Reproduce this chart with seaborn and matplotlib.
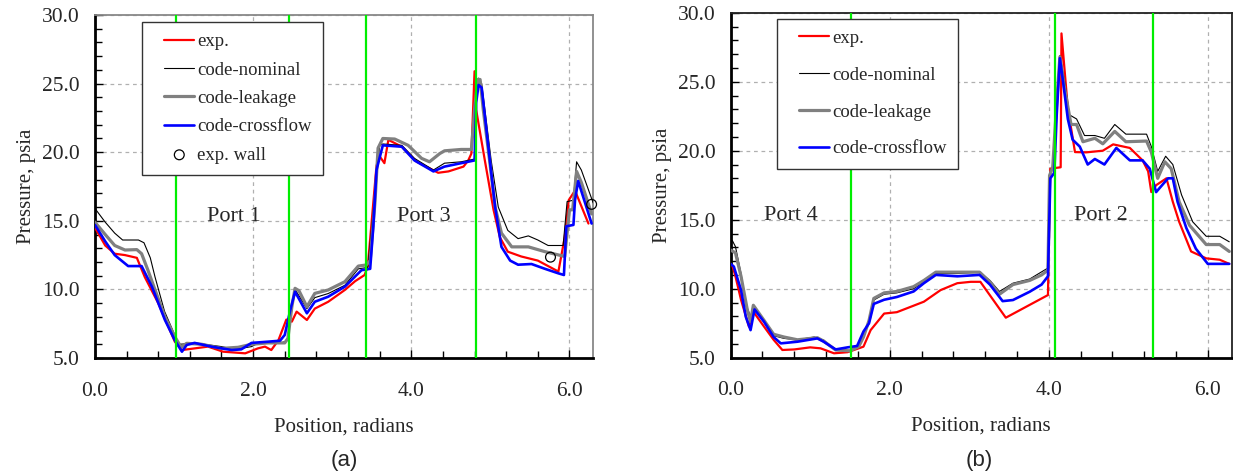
import matplotlib
matplotlib.use("Agg")
import matplotlib.pyplot as plt
from matplotlib.ticker import MultipleLocator, FormatStrFormatter
from matplotlib.lines import Line2D
from matplotlib.collections import PathCollection
from matplotlib.legend_handler import HandlerLine2D, HandlerPathCollection
import seaborn as sns

# ---------------- panel (a) ----------------
a_exp_x = [0.0, 0.13, 0.25, 0.38, 0.53, 0.63, 0.8, 1.01, 1.1, 1.26, 1.43, 1.62, 1.9, 2.06, 2.15, 2.23,
           2.32, 2.42, 2.45, 2.49, 2.55, 2.68, 2.78, 2.95, 3.16, 3.29, 3.41, 3.45, 3.56, 3.6, 3.66, 3.71,
           3.88, 4.07, 4.34, 4.47, 4.66, 4.72, 4.76, 4.8, 4.82, 4.93, 5.04, 5.12, 5.22, 5.39, 5.6, 5.86,
           5.94, 5.99, 6.07, 6.24]
a_exp_y = [14.5, 13.2, 12.6, 12.5, 12.3, 10.9, 9.0, 6.19, 5.58, 5.7, 5.83, 5.46, 5.34, 5.7, 5.83, 5.58,
           6.3, 7.8, 7.77, 7.65, 8.38, 7.77, 8.6, 9.1, 9.96, 10.6, 11.05, 11.7, 19.0, 19.7, 19.2, 20.9,
           20.4, 19.3, 18.5, 18.6, 18.95, 19.4, 19.9, 25.9, 23.1, 19.4, 15.8, 13.8, 12.75, 12.4, 12.1, 11.3,
           13.8, 16.5, 17.2, 14.8]

a_nom_x = [0.0, 0.13, 0.25, 0.35, 0.55, 0.62, 0.7, 0.76, 0.88, 1.0, 1.06, 1.12, 1.26, 1.6, 1.77, 1.98,
           2.06, 2.36, 2.44, 2.49, 2.53, 2.68, 2.78, 2.95, 3.16, 3.33, 3.45, 3.54, 3.6, 3.64, 3.88, 4.04,
           4.28, 4.42, 4.63, 4.8, 4.82, 4.85, 4.89, 5.01, 5.1, 5.22, 5.35, 5.48, 5.6, 5.73, 5.92, 5.97,
           6.05, 6.09, 6.15, 6.3]
a_nom_y = [15.9, 14.9, 14.1, 13.6, 13.6, 13.4, 12.3, 10.9, 8.4, 6.8, 6.0, 6.02, 6.1, 5.83, 5.63, 5.83,
           6.07, 6.1, 6.3, 8.7, 10.0, 8.6, 9.4, 9.7, 10.3, 11.5, 11.6, 17.0, 20.5, 20.6, 20.5, 19.55,
           18.7, 19.2, 19.3, 19.5, 24.5, 25.4, 25.0, 19.4, 16.0, 14.3, 13.7, 13.9, 13.6, 13.2, 13.2, 16.4,
           16.5, 19.3, 18.7, 16.3]

a_leak_x = [0.0, 0.13, 0.25, 0.38, 0.53, 0.59, 0.67, 0.76, 0.885, 1.01, 1.09, 1.16, 1.35, 1.6, 1.81, 1.98,
            2.19, 2.4, 2.44, 2.49, 2.53, 2.58, 2.68, 2.78, 2.95, 3.16, 3.33, 3.43, 3.48, 3.54, 3.58, 3.64,
            3.79, 3.96, 4.13, 4.23, 4.36, 4.42, 4.63, 4.76, 4.8, 4.84, 4.87, 4.91, 4.99, 5.06, 5.14, 5.27,
            5.48, 5.69, 5.94, 5.97, 6.0, 6.04, 6.09, 6.15, 6.28]
a_leak_y = [14.9, 14.0, 13.2, 12.87, 12.9, 12.6, 11.4, 9.96, 8.0, 6.55, 5.78, 6.07, 6.0, 5.7, 5.78, 6.0,
            6.1, 6.1, 6.43, 8.74, 10.08, 9.9, 8.74, 9.71, 9.96, 10.56, 11.7, 11.78, 12.1, 16.3, 20.3, 21.0,
            20.96, 20.5, 19.55, 19.3, 19.9, 20.1, 20.2, 20.2, 23.1, 25.3, 25.3, 23.1, 19.4, 16.0, 14.1, 13.1,
            13.1, 12.75, 12.4, 14.1, 15.8, 15.8, 18.6, 17.8, 15.5]

a_cross_x = [0.0, 0.13, 0.25, 0.42, 0.59, 0.72, 0.885, 1.01, 1.1, 1.16, 1.26, 1.47, 1.73, 1.85, 1.98, 2.19,
             2.34, 2.4, 2.47, 2.53, 2.68, 2.78, 2.95, 3.16, 3.37, 3.48, 3.52, 3.56, 3.64, 3.88, 4.04, 4.28,
             4.42, 4.63, 4.8, 4.82, 4.85, 4.89, 4.97, 5.06, 5.14, 5.25, 5.35, 5.52, 5.69, 5.86, 5.93, 5.96,
             6.05, 6.07, 6.11, 6.28]
a_cross_y = [14.7, 13.5, 12.5, 11.7, 11.7, 10.2, 7.77, 6.3, 5.46, 5.95, 6.1, 5.83, 5.58, 5.63, 6.1, 6.19,
             6.26, 6.68, 8.5, 9.83, 8.26, 9.1, 9.47, 10.2, 11.4, 11.5, 14.6, 18.7, 20.5, 20.4, 19.4, 18.6,
             18.95, 19.2, 19.4, 23.6, 24.9, 24.7, 20.6, 16.0, 13.1, 12.1, 11.8, 11.85, 11.5, 11.17, 11.05, 14.6,
             14.7, 16.5, 17.9, 14.8]

a_wall_x = [5.76, 6.28]
a_wall_y = [12.35, 16.2]

a_ports_x = [1.024, 2.449, 3.426, 4.817]
a_port_labels = ["Port 1", "Port 3"]
a_port_label_x = [1.76, 4.16]

# ---------------- panel (b) ----------------
b_exp_x = [0.02, 0.06, 0.13, 0.23, 0.29, 0.42, 0.54, 0.65, 0.8, 1.0, 1.13, 1.3, 1.47, 1.67, 1.76, 1.93,
           2.09, 2.43, 2.64, 2.85, 3.02, 3.14, 3.46, 3.99, 4.01, 4.02, 4.15, 4.16, 4.24, 4.33, 4.47, 4.68,
           4.81, 5.02, 5.18, 5.25, 5.29, 5.35, 5.48, 5.56, 5.64, 5.79, 5.98, 6.15, 6.27]
b_exp_y = [11.7, 10.9, 9.2, 7.25, 8.3, 7.25, 6.3, 5.56, 5.6, 5.75, 5.68, 5.32, 5.4, 5.8, 7.0, 8.2,
           8.3, 9.06, 9.9, 10.4, 10.5, 10.5, 7.9, 9.54, 16.1, 18.7, 18.8, 28.5, 23.07, 19.9, 19.88, 20.0,
           20.46, 20.2, 19.3, 18.5, 17.0, 17.5, 18.0, 16.3, 14.85, 12.7, 12.2, 12.1, 11.8]

b_nom_x = [0.0, 0.02, 0.06, 0.13, 0.19, 0.25, 0.285, 0.42, 0.54, 0.67, 0.84, 1.05, 1.17, 1.3, 1.5, 1.6,
           1.67, 1.74, 1.8, 1.93, 2.09, 2.3, 2.43, 2.58, 2.85, 3.13, 3.26, 3.38, 3.55, 3.76, 3.99, 4.01,
           4.05, 4.1, 4.14, 4.2, 4.26, 4.35, 4.45, 4.58, 4.7, 4.83, 4.97, 5.23, 5.29, 5.37, 5.47, 5.56,
           5.67, 5.81, 5.98, 6.15, 6.27]
b_nom_y = [13.2, 13.5, 13.05, 11.1, 8.9, 7.97, 8.8, 7.6, 6.6, 6.4, 6.3, 6.5, 6.28, 5.6, 5.45, 5.8,
           6.5, 7.7, 9.18, 9.6, 9.7, 10.0, 10.5, 11.1, 11.1, 11.2, 10.6, 9.8, 10.4, 10.7, 11.5, 18.3,
           18.9, 23.8, 26.9, 25.0, 22.6, 22.3, 21.1, 21.1, 20.9, 21.9, 21.2, 21.2, 20.3, 18.5, 19.6, 19.0,
           16.8, 14.85, 13.8, 13.8, 13.4]

b_leak_x = [0.0, 0.06, 0.13, 0.21, 0.25, 0.285, 0.42, 0.54, 0.67, 0.84, 1.09, 1.17, 1.32, 1.5, 1.61, 1.67,
            1.74, 1.8, 1.93, 2.09, 2.3, 2.43, 2.58, 3.13, 3.26, 3.38, 3.55, 3.76, 3.91, 3.99, 4.01, 4.05,
            4.1, 4.14, 4.2, 4.28, 4.35, 4.43, 4.58, 4.68, 4.83, 4.97, 5.23, 5.29, 5.37, 5.46, 5.54, 5.64,
            5.77, 5.98, 6.15, 6.27]
b_leak_y = [12.8, 12.6, 10.9, 8.45, 7.6, 8.8, 7.7, 6.7, 6.5, 6.3, 6.45, 6.2, 5.56, 5.5, 5.8, 6.5,
            7.7, 9.3, 9.7, 9.8, 10.15, 10.6, 11.2, 11.2, 10.5, 9.6, 10.3, 10.6, 11.0, 11.35, 18.2, 18.8,
            23.5, 26.8, 24.5, 21.9, 21.9, 20.65, 20.9, 20.5, 21.4, 20.65, 20.7, 19.9, 18.0, 19.2, 18.7, 16.3,
            14.6, 13.2, 13.2, 12.7]

b_cross_x = [0.0, 0.04, 0.13, 0.19, 0.25, 0.3, 0.42, 0.54, 0.63, 0.84, 1.09, 1.17, 1.32, 1.47, 1.59, 1.67,
             1.74, 1.8, 1.93, 2.09, 2.3, 2.43, 2.58, 2.85, 3.13, 3.26, 3.42, 3.55, 3.76, 3.91, 3.99, 4.02,
             4.07, 4.1, 4.14, 4.18, 4.24, 4.3, 4.39, 4.49, 4.58, 4.7, 4.85, 5.02, 5.18, 5.27, 5.35, 5.44,
             5.5, 5.56, 5.62, 5.73, 5.85, 6.0, 6.27]
b_cross_y = [11.8, 11.6, 9.9, 7.97, 7.0, 8.5, 7.6, 6.5, 6.04, 6.16, 6.4, 6.16, 5.6, 5.75, 5.85, 6.9,
             7.5, 8.9, 9.2, 9.4, 9.8, 10.4, 11.0, 10.9, 11.0, 10.3, 9.1, 9.18, 9.78, 10.3, 10.9, 18.0,
             18.4, 22.6, 26.7, 25.0, 22.3, 20.8, 20.3, 19.0, 19.4, 19.0, 20.2, 19.3, 19.3, 18.7, 17.0, 17.6,
             18.0, 18.0, 16.3, 14.4, 12.9, 11.8, 11.8]

b_ports_x = [1.508, 4.078, 5.31]
b_port_labels = ["Port 4", "Port 2"]
b_port_label_x = [0.76, 4.65]

series_names = ["exp.", "code-nominal", "code-leakage", "code-crossflow"]
series_colors = ["#ff0000", "#000000", "#808080", "#0000ff"]
series_widths = [1.6, 0.8, 2.3, 1.9]

# ---------------- style ----------------
sns.set_theme(style="white")
plt.rcParams["font.family"] = ["Liberation Serif", "DejaVu Serif"]

fig = plt.figure(figsize=(12.33, 4.76), dpi=100)
ax_a = fig.add_axes([0.0770, 0.2479, 0.4041, 0.7206])
ax_b = fig.add_axes([0.5926, 0.2485, 0.4063, 0.7248])

# legend keys start a little inside the frame
legend_handlers = {Line2D: HandlerLine2D(xpad=0.6),
                   PathCollection: HandlerPathCollection(xpad=0.6)}


def draw_panel(ax, xs, ys, ports, labels, label_x, frame_color, wall=None,
               legend_anchor=(0.094, 0.98), labelspacing=0.7):
    # draw order: nominal, leakage, crossflow, experiment on top
    for i in [1, 2, 3, 0]:
        sns.lineplot(x=xs[i], y=ys[i], ax=ax, color=series_colors[i],
                     linewidth=series_widths[i], sort=False, estimator=None,
                     label=series_names[i], zorder=3 + i)
    handles, names = ax.get_legend_handles_labels()
    by_name = dict(zip(names, handles))
    hs = [by_name[n] for n in series_names]
    ns = list(series_names)
    if wall is not None:
        sc = ax.scatter(wall[0], wall[1], s=50, facecolors="none", edgecolors="black",
                        linewidths=0.9, zorder=8, clip_on=False, label="exp. wall")
        hs.append(sc)
        ns.append("exp. wall")
    for px in ports:
        ax.axvline(px, color="#00ee00", lw=1.6, zorder=9)
    for txt, tx in zip(labels, label_x):
        ax.text(tx, 15.3, txt, ha="center", va="center", fontsize=16, zorder=10)

    ax.set_xlim(0, 6.3)
    ax.set_ylim(5, 30)
    ax.xaxis.set_major_locator(MultipleLocator(2.0))
    ax.xaxis.set_minor_locator(MultipleLocator(0.4))
    ax.yaxis.set_major_locator(MultipleLocator(5.0))
    ax.yaxis.set_minor_locator(MultipleLocator(1.0))
    ax.xaxis.set_major_formatter(FormatStrFormatter("%.1f"))
    ax.yaxis.set_major_formatter(FormatStrFormatter("%.1f"))
    ax.grid(True, which="major", color="#b0b0b0", linestyle=(0, (3, 3)), linewidth=0.9)
    ax.tick_params(which="both", direction="in", color="black", width=1.0,
                   bottom=True, left=True, top=False, right=False)
    ax.tick_params(which="major", length=6, labelsize=15.5)
    ax.tick_params(which="minor", length=5)
    ax.tick_params(axis="x", which="major", pad=17)
    ax.tick_params(axis="y", which="major", pad=11)
    for side in ["left", "bottom"]:
        ax.spines[side].set_color("black")
        ax.spines[side].set_linewidth(2.0)
    for side in ["top", "right"]:
        ax.spines[side].set_color(frame_color)
        ax.spines[side].set_linewidth(1.3)
    ax.set_xlabel("Position, radians", fontsize=15, labelpad=12)
    ax.set_ylabel("Pressure, psia", fontsize=15, labelpad=4)

    leg = ax.legend(hs, ns, loc="upper left", bbox_to_anchor=legend_anchor,
                    fontsize=13.5, frameon=True, fancybox=False, shadow=False,
                    edgecolor="#333333", framealpha=1.0, handlelength=2.2,
                    handletextpad=0.15, labelspacing=labelspacing, borderpad=0.6,
                    borderaxespad=0.0, handler_map=legend_handlers)
    leg.get_frame().set_linewidth(1.0)
    leg.set_zorder(20)


draw_panel(ax_a,
           [a_exp_x, a_nom_x, a_leak_x, a_cross_x],
           [a_exp_y, a_nom_y, a_leak_y, a_cross_y],
           a_ports_x, a_port_labels, a_port_label_x, "#888888",
           wall=(a_wall_x, a_wall_y), legend_anchor=(0.094, 0.98), labelspacing=0.6)
draw_panel(ax_b,
           [b_exp_x, b_nom_x, b_leak_x, b_cross_x],
           [b_exp_y, b_nom_y, b_leak_y, b_cross_y],
           b_ports_x, b_port_labels, b_port_label_x, "#222222",
           legend_anchor=(0.092, 0.983), labelspacing=1.05)

fig.text(0.279, 0.033, "(a)", ha="center", va="center", fontsize=16,
         family=["Liberation Sans", "DejaVu Sans"])
fig.text(0.794, 0.033, "(b)", ha="center", va="center", fontsize=16,
         family=["Liberation Sans", "DejaVu Sans"])

fig.savefig("out.png", dpi=100)
